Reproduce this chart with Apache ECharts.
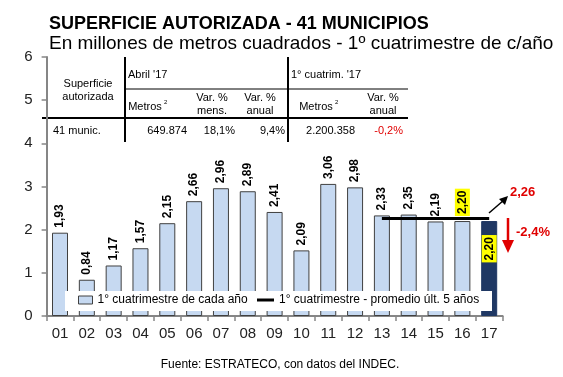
<!DOCTYPE html>
<html>
<head>
<meta charset="utf-8">
<script src="https://cdn.jsdelivr.net/npm/echarts@6/dist/echarts.min.js"></script>
<style>
  html, body { margin: 0; padding: 0; background: #fff; }
  #chart { width: 563px; height: 377px; }
</style>
</head>
<body>
<div id="chart"></div>
<script>
// años (1° cuatrimestre)
const years = ['01', '02', '03', '04', '05', '06', '07', '08', '09', '10', '11', '12', '13', '14', '15', '16', '17']
// altura de barras tal como se ve en el gráfico (millones de m2)
const barValues = [1.93, 0.84, 1.17, 1.57, 2.15, 2.66, 2.96, 2.89, 2.41, 1.52, 3.06, 2.98, 2.33, 2.35, 2.19, 2.20, 2.20]
// etiquetas impresas sobre las barras
const barLabels = ['1,93', '0,84', '1,17', '1,57', '2,15', '2,66', '2,96', '2,89', '2,41', '2,09', '3,06', '2,98', '2,33', '2,35', '2,19', '2,20', '2,20']
// promedio últimos 5 años (13-17)
const avgValues = [null, null, null, null, null, null, null, null, null, null, null, null, 2.26, 2.26, 2.26, 2.26, 2.26]
const yTicks = [0, 6, 1]

const FONT = 'Liberation Sans, Arial, sans-serif'
const BAR_NAME = '1° cuatrimestre de cada año'
const AVG_NAME = '1° cuatrimestre - promedio últ. 5 años'
const chart = echarts.init(document.getElementById('chart'))

const barData = barValues.map((v, i) => {
  const item = { value: v }
  if (i === 15) {
    item.label = { backgroundColor: '#ffff00', padding: [2, 2, 1, 2] }
  }
  if (i === 16) {
    item.itemStyle = { color: '#1f3864', borderColor: '#1f3864' }
    item.label = {
      position: 'insideTop', align: 'right', distance: 14,
      backgroundColor: '#ffff00', padding: [2, 2, 1, 2]
    }
  }
  return item
})

const t = (x, y, text, opt = {}) => ({
  type: 'text', x, y,
  style: Object.assign({ text, fontFamily: FONT, fontSize: 11, fill: '#000', align: 'left', verticalAlign: 'middle' }, opt)
})
const ln = (x1, y1, x2, y2, w = 1, color = '#000') => ({
  type: 'line', shape: { x1, y1, x2, y2 }, style: { stroke: color, lineWidth: w }
})

// tabla superior
const tableGraphics = [
  ln(125, 57, 125, 142, 2),
  ln(288, 57, 288, 142, 2),
  ln(125, 89, 408, 89, 1),
  ln(42, 118, 408, 118, 2),
  t(88, 84, 'Superficie', { align: 'center' }),
  t(88, 97, 'autorizada', { align: 'center' }),
  t(128, 75, "Abril '17"),
  t(291, 75, "1° cuatrim. '17"),
  t(145, 107, 'Metros', { align: 'center' }),
  t(164, 102, '2', { fontSize: 6 }),
  t(212, 98, 'Var. %', { align: 'center' }),
  t(212, 111, 'mens.', { align: 'center' }),
  t(260, 98, 'Var. %', { align: 'center' }),
  t(260, 111, 'anual', { align: 'center' }),
  t(316, 107, 'Metros', { align: 'center' }),
  t(335, 102, '2', { fontSize: 6 }),
  t(383, 98, 'Var. %', { align: 'center' }),
  t(383, 111, 'anual', { align: 'center' }),
  t(53, 131, '41 munic.'),
  t(187, 131, '649.874', { align: 'right' }),
  t(235, 131, '18,1%', { align: 'right' }),
  t(285, 131, '9,4%', { align: 'right' }),
  t(355, 131, '2.200.358', { align: 'right' }),
  t(403, 131, '-0,2%', { align: 'right', fill: '#e00000' })
]

// flechas, notas y fuente
const noteGraphics = [
  ln(489, 213, 504, 200, 1.5),
  { type: 'polygon', shape: { points: [[508, 196], [499, 199], [505, 205]] }, style: { fill: '#000' } },
  t(510, 192, '2,26', { fontSize: 13, fontWeight: 'bold', fill: '#e00000' }),
  ln(508, 218, 508, 242, 2.5, '#e00000'),
  { type: 'polygon', shape: { points: [[502, 240], [514, 240], [508, 253]] }, style: { fill: '#e00000' } },
  t(516, 232, '-2,4%', { fontSize: 13, fontWeight: 'bold', fill: '#e00000' }),
  t(280, 365, 'Fuente: ESTRATECO, con datos del INDEC.', { fontSize: 12, align: 'center' }),
  // fondo blanco de la leyenda
  { type: 'rect', z: 3, shape: { x: 65, y: 291, width: 427, height: 20 }, style: { fill: '#fff' } }
]

const legendText = { fontFamily: FONT, fontSize: 12, color: '#000' }

const option = {
  animation: false,
  title: [
    {
      text: 'SUPERFICIE AUTORIZADA - 41 MUNICIPIOS',
      left: 44, top: 10,
      textStyle: { fontFamily: FONT, fontSize: 18, fontWeight: 'bold', color: '#000' }
    },
    {
      text: 'En millones de metros cuadrados - 1º cuatrimestre de c/año',
      left: 44, top: 29,
      textStyle: { fontFamily: FONT, fontSize: 19, fontWeight: 'normal', color: '#000' }
    }
  ],
  grid: { left: 46.6, top: 57, width: 456, height: 259 },
  legend: [
    {
      left: 78, top: 294, padding: 0, z: 6,
      itemWidth: 14, itemHeight: 8,
      textStyle: legendText,
      data: [{ name: BAR_NAME, icon: 'rect', itemStyle: { color: '#c6d9f1', borderColor: '#404040', borderWidth: 1 } }]
    },
    {
      left: 257, top: 294, padding: 0, z: 6,
      itemWidth: 17, itemHeight: 3,
      textStyle: legendText,
      data: [{ name: AVG_NAME, icon: 'rect', itemStyle: { color: '#000' } }]
    }
  ],
  xAxis: {
    type: 'category',
    data: years,
    axisLine: { lineStyle: { color: '#868686', width: 2 } },
    axisTick: { show: true, length: 5, lineStyle: { color: '#868686', width: 1.5 } },
    axisLabel: { fontFamily: FONT, fontSize: 15, color: '#222', margin: 10 }
  },
  yAxis: {
    type: 'value',
    min: yTicks[0], max: yTicks[1], interval: yTicks[2],
    splitLine: { show: false },
    axisLine: { show: true, lineStyle: { color: '#868686', width: 2 } },
    axisTick: { show: true, length: 5, lineStyle: { color: '#868686', width: 1.5 } },
    axisLabel: { fontFamily: FONT, fontSize: 15, color: '#222', margin: 14 }
  },
  series: [
    {
      name: BAR_NAME,
      type: 'bar',
      barWidth: 16,
      data: barData,
      itemStyle: { color: '#c6d9f1', borderColor: '#404040', borderWidth: 1 },
      label: {
        show: true,
        position: 'top',
        rotate: 90,
        align: 'left',
        verticalAlign: 'middle',
        distance: 5,
        fontFamily: FONT,
        fontSize: 12,
        fontWeight: 'bold',
        color: '#000',
        formatter: p => barLabels[p.dataIndex]
      }
    },
    {
      name: AVG_NAME,
      type: 'line',
      data: avgValues,
      symbol: 'none',
      z: 5,
      lineStyle: { color: '#000', width: 3 },
      itemStyle: { color: '#000' }
    }
  ],
  graphic: tableGraphics.concat(noteGraphics)
}

chart.setOption(option)
</script>
</body>
</html>
